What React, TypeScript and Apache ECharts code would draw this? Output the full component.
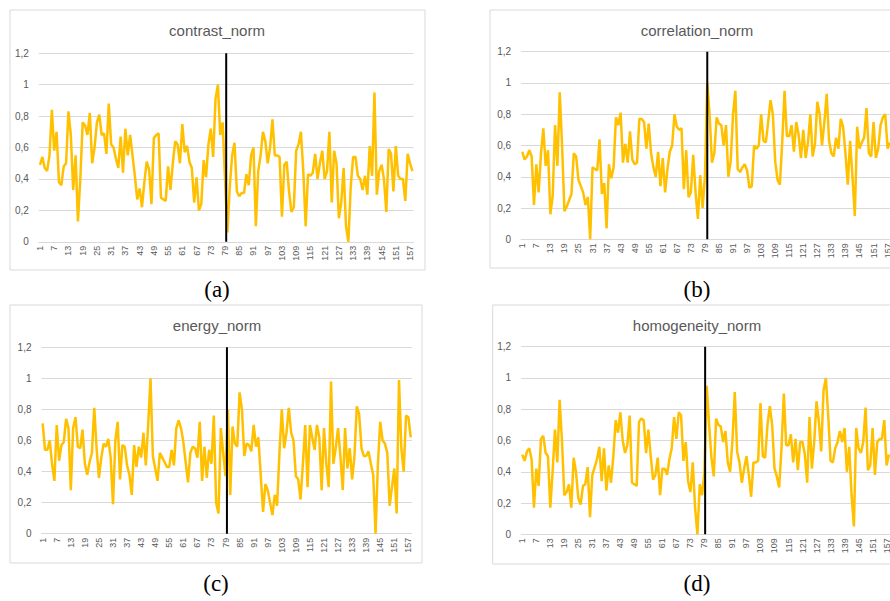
import React, { useEffect, useRef } from 'react';
import * as echarts from 'echarts';

const categories: string[] = Array.from({ length: 158 }, (_, i) => String(i + 1));

const contrastNorm = [
  0.49, 0.54, 0.47, 0.45, 0.55, 0.84, 0.58, 0.70, 0.38, 0.36,
  0.48, 0.50, 0.83, 0.68, 0.33, 0.55, 0.13, 0.40, 0.76, 0.74,
  0.68, 0.82, 0.50, 0.60, 0.76, 0.81, 0.68, 0.69, 0.56, 0.88,
  0.62, 0.60, 0.53, 0.47, 0.67, 0.44, 0.72, 0.55, 0.68, 0.55,
  0.42, 0.27, 0.34, 0.22, 0.38, 0.51, 0.46, 0.24, 0.66, 0.68,
  0.69, 0.28, 0.27, 0.26, 0.48, 0.33, 0.50, 0.64, 0.62, 0.50,
  0.75, 0.57, 0.61, 0.51, 0.47, 0.25, 0.41, 0.20, 0.24, 0.52,
  0.41, 0.62, 0.72, 0.54, 0.91, 1.00, 0.68, 0.76, 0.40,
  0.06, 0.35, 0.55, 0.63, 0.32, 0.29, 0.31, 0.31, 0.43, 0.36,
  0.55, 0.60, 0.10, 0.45, 0.55, 0.70, 0.64, 0.50, 0.60, 0.78,
  0.55, 0.55, 0.54, 0.16, 0.49, 0.51, 0.32, 0.19, 0.22, 0.58,
  0.62, 0.70, 0.45, 0.10, 0.43, 0.42, 0.44, 0.56, 0.40, 0.50,
  0.58, 0.40, 0.45, 0.70, 0.25, 0.58, 0.50, 0.15, 0.25, 0.47,
  0.10, 0.00, 0.35, 0.54, 0.54, 0.42, 0.40, 0.33, 0.42, 0.30,
  0.61, 0.42, 0.95, 0.30, 0.45, 0.49, 0.40, 0.19, 0.59, 0.56,
  0.32, 0.61, 0.42, 0.40, 0.40, 0.26, 0.56, 0.50, 0.45,
];

const correlationNorm = [
  0.56, 0.51, 0.53, 0.57, 0.53, 0.22, 0.48, 0.30, 0.55, 0.71,
  0.47, 0.57, 0.16, 0.28, 0.73, 0.47, 0.94, 0.60, 0.18, 0.21,
  0.25, 0.29, 0.55, 0.53, 0.38, 0.34, 0.30, 0.22, 0.27, 0.00,
  0.46, 0.45, 0.44, 0.64, 0.29, 0.36, 0.07, 0.48, 0.39, 0.46,
  0.78, 0.73, 0.81, 0.49, 0.61, 0.49, 0.69, 0.51, 0.48, 0.49,
  0.77, 0.77, 0.75, 0.58, 0.74, 0.55, 0.46, 0.40, 0.56, 0.34,
  0.52, 0.30,
  0.45, 0.56, 0.60, 0.80, 0.72, 0.70, 0.71, 0.32,
  0.57, 0.27, 0.30, 0.54, 0.30, 0.13, 0.41, 0.20, 0.40, 1.00,
  0.80, 0.49, 0.55, 0.78, 0.74, 0.73, 0.60, 0.73, 0.40, 0.50,
  0.80, 0.95, 0.45, 0.43, 0.46, 0.48, 0.44, 0.33, 0.34, 0.60,
  0.58, 0.60, 0.80, 0.63, 0.62, 0.75, 0.89, 0.80, 0.50, 0.38,
  0.35, 0.62, 0.95, 0.66, 0.66, 0.73, 0.56, 0.75, 0.67, 0.52,
  0.70, 0.52, 0.62, 0.80, 0.53, 0.61, 0.88, 0.80, 0.60, 0.75,
  0.93, 0.63, 0.55, 0.53, 0.65, 0.58, 0.77, 0.72, 0.55, 0.35,
  0.63, 0.40, 0.15, 0.72, 0.58, 0.62, 0.65, 0.84, 0.55, 0.53,
  0.75, 0.52, 0.58, 0.73, 0.78, 0.80, 0.58, 0.62,
];

const energyNorm = [
  0.71, 0.54, 0.54, 0.60, 0.45, 0.34, 0.70, 0.47, 0.57, 0.59,
  0.74, 0.68, 0.28, 0.68, 0.75, 0.56, 0.55, 0.67, 0.45, 0.38,
  0.46, 0.52, 0.81, 0.55, 0.36, 0.49, 0.58, 0.56, 0.61, 0.49,
  0.19, 0.60, 0.72, 0.35, 0.57, 0.56, 0.44, 0.38, 0.25, 0.57,
  0.43, 0.56, 0.49, 0.65, 0.44, 0.70, 1.00, 0.50, 0.42, 0.34,
  0.52, 0.49, 0.46, 0.43, 0.43, 0.54, 0.44, 0.68, 0.73, 0.68,
  0.59, 0.46, 0.33, 0.52, 0.56, 0.55, 0.49, 0.72, 0.34, 0.56,
  0.36, 0.54, 0.45, 0.76, 0.20, 0.13, 0.68, 0.52, 0.37,
  0.80, 0.25, 0.69, 0.58, 0.56, 0.91, 0.80, 0.50, 0.58, 0.57,
  0.53, 0.70, 0.56, 0.62, 0.38, 0.14, 0.32, 0.28, 0.20, 0.12,
  0.25, 0.18, 0.52, 0.80, 0.55, 0.65, 0.81, 0.65, 0.60, 0.37,
  0.35, 0.22, 0.45, 0.70, 0.30, 0.70, 0.62, 0.54, 0.70, 0.62,
  0.28, 0.68, 0.45, 0.30, 0.98, 0.45, 0.55, 0.68, 0.50, 0.28,
  0.68, 0.42, 0.55, 0.35, 0.50, 0.82, 0.77, 0.55, 0.50, 0.50,
  0.53, 0.45, 0.38, 0.00, 0.45, 0.72, 0.60, 0.58, 0.52, 0.18,
  0.30, 0.42, 0.13, 0.99, 0.55, 0.40, 0.76, 0.75, 0.62,
];

const homogeneityNorm = [
  0.51, 0.47, 0.53, 0.55, 0.48, 0.17, 0.42, 0.31, 0.61, 0.63,
  0.52, 0.50, 0.17, 0.40, 0.67, 0.46, 0.86, 0.60, 0.25, 0.27,
  0.32, 0.17, 0.49, 0.40, 0.23, 0.19, 0.31, 0.32, 0.43, 0.11,
  0.38, 0.43, 0.48, 0.56, 0.34, 0.55, 0.28, 0.44, 0.33, 0.50,
  0.73, 0.65, 0.78, 0.60, 0.52, 0.57, 0.76, 0.33, 0.32, 0.31,
  0.72, 0.74, 0.73, 0.52, 0.67, 0.50, 0.35, 0.38, 0.49, 0.25,
  0.42, 0.42, 0.38, 0.48, 0.55, 0.75,
  0.61, 0.78, 0.76, 0.47,
  0.59, 0.34, 0.27, 0.46, 0.17, 0.00, 0.32, 0.25, 0.40, 0.95,
  0.70, 0.49, 0.37, 0.74, 0.70, 0.69, 0.59, 0.66, 0.46, 0.40,
  0.60, 0.91, 0.53, 0.46, 0.33, 0.42, 0.50, 0.38, 0.24, 0.46,
  0.46, 0.47, 0.84, 0.50, 0.49, 0.70, 0.82, 0.70, 0.42, 0.37,
  0.30, 0.55, 0.90, 0.57, 0.57, 0.64, 0.46, 0.61, 0.41, 0.59,
  0.59, 0.51, 0.33, 0.75, 0.42, 0.59, 0.85, 0.72, 0.53, 0.92,
  1.00, 0.76, 0.47, 0.46, 0.55, 0.59, 0.66, 0.59, 0.68, 0.40,
  0.56, 0.25, 0.05, 0.68, 0.55, 0.52, 0.59, 0.81, 0.41, 0.44,
  0.68, 0.38, 0.59, 0.61, 0.61, 0.73, 0.44, 0.51,
];

const panelSeries = [contrastNorm, correlationNorm, energyNorm, homogeneityNorm];
const panelTitles = ['contrast_norm', 'correlation_norm', 'energy_norm', 'homogeneity_norm'];
const panelCaptions = ['(a)', '(b)', '(c)', '(d)'];
// position of the vertical black separator, in category index units
const separatorIndex = [78.5, 79, 78.6, 78.3];
const yMin = 0;
const yMax = 1.2;
const yInterval = 0.2;

const layouts = [
  { frame: [10, 10, 415, 260], grid: { left: 38.8, top: 53.3, width: 374.8, height: 188.5 }, titleX: 217, titleY: 30, capX: 217, capY: 289 },
  { frame: [490, 10, 414, 258], grid: { left: 521.1, top: 51.7, width: 370, height: 187.6 }, titleX: 697, titleY: 30, capX: 697, capY: 289 },
  { frame: [10, 305, 412, 258], grid: { left: 41.5, top: 347.3, width: 370.4, height: 186.4 }, titleX: 217, titleY: 325.5, capX: 216, capY: 583 },
  { frame: [492.7, 305, 414, 259], grid: { left: 521.1, top: 346.7, width: 369, height: 187.6 }, titleX: 697, titleY: 325, capX: 697, capY: 583 },
];

const GOLD = '#FFC000';
const GRID_COLOR = '#d9d9d9';
const TEXT_COLOR = '#595959';

function buildOption() {
  const grids: any[] = [];
  const xAxes: any[] = [];
  const yAxes: any[] = [];
  const series: any[] = [];
  const graphics: any[] = [];

  layouts.forEach((l, k) => {
    grids.push({ ...l.grid, containLabel: false });
    xAxes.push({
      type: 'category',
      gridIndex: k,
      data: categories,
      boundaryGap: true,
      axisLine: { show: true, lineStyle: { color: GRID_COLOR, width: 1 } },
      axisTick: { show: false },
      axisLabel: {
        interval: 5,
        rotate: 90,
        fontSize: 9,
        color: TEXT_COLOR,
        margin: 4,
        fontFamily: 'Liberation Sans',
      },
    });
    xAxes.push({
      type: 'value',
      gridIndex: k,
      min: -0.5,
      max: categories.length - 0.5,
      show: false,
      splitLine: { show: false },
    });
    yAxes.push({
      type: 'value',
      gridIndex: k,
      min: yMin,
      max: yMax,
      interval: yInterval,
      axisLine: { show: false },
      axisTick: { show: false },
      splitLine: { show: true, lineStyle: { color: GRID_COLOR, width: 1 } },
      axisLabel: {
        fontSize: 10,
        color: TEXT_COLOR,
        margin: 10,
        fontFamily: 'Liberation Sans',
        formatter: (v: number) => String(Math.round(v * 10) / 10).replace('.', ','),
      },
    });
    series.push({
      type: 'line',
      name: panelTitles[k],
      xAxisIndex: 2 * k,
      yAxisIndex: k,
      data: panelSeries[k],
      symbol: 'none',
      lineStyle: { color: GOLD, width: 2.5 },
      itemStyle: { color: GOLD },
      z: 2,
    });
    series.push({
      type: 'line',
      name: 'separator' + k,
      xAxisIndex: 2 * k + 1,
      yAxisIndex: k,
      data: [[separatorIndex[k], yMin], [separatorIndex[k], yMax]],
      symbol: 'none',
      lineStyle: { color: '#000', width: 2 },
      itemStyle: { color: '#000' },
      z: 3,
    });
    const [fx, fy, fw, fh] = l.frame;
    graphics.push({
      type: 'rect',
      shape: { x: fx, y: fy, width: fw, height: fh },
      style: { fill: 'none', stroke: GRID_COLOR, lineWidth: 1 },
      silent: true,
      z: 0,
    });
    graphics.push({
      type: 'text',
      x: l.titleX,
      y: l.titleY,
      style: {
        text: panelTitles[k],
        fill: TEXT_COLOR,
        fontSize: 15,
        fontFamily: 'Liberation Sans',
        align: 'center',
        verticalAlign: 'middle',
        textAlign: 'center',
        textVerticalAlign: 'middle',
      },
    });
    graphics.push({
      type: 'text',
      x: l.capX,
      y: l.capY,
      style: {
        text: panelCaptions[k],
        fill: '#000',
        fontSize: 23,
        fontFamily: 'Liberation Serif',
        align: 'center',
        verticalAlign: 'middle',
        textAlign: 'center',
        textVerticalAlign: 'middle',
      },
    });
  });

  return {
    animation: false,
    backgroundColor: '#ffffff',
    grid: grids,
    xAxis: xAxes,
    yAxis: yAxes,
    series,
    graphic: { elements: graphics },
  };
}

export default function App() {
  const ref = useRef<HTMLDivElement>(null);
  useEffect(() => {
    if (!ref.current) return;
    const chart = echarts.init(ref.current, null, { renderer: 'svg', width: 910, height: 601 });
    chart.setOption(buildOption() as any);
    return () => chart.dispose();
  }, []);
  return (
    <div style={{ position: 'absolute', left: 0, top: 0, width: 890, height: 601, overflow: 'hidden', background: '#fff' }}>
      <div ref={ref} style={{ width: 910, height: 601 }} />
    </div>
  );
}
